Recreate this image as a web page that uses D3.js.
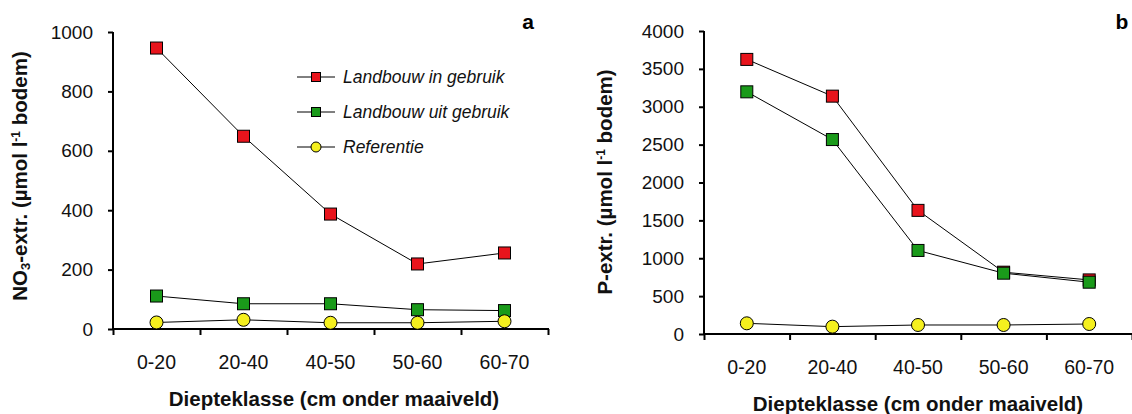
<!DOCTYPE html>
<html lang="nl">
<head>
<meta charset="UTF-8" />
<title>NO3 en P extractie per diepteklasse</title>
<style>
  body { margin: 0; background: #fff; }
  svg, .axis { font-family: "Liberation Sans", Arial, sans-serif; }
  .axis path, .axis line { stroke: #000; stroke-width: 2px; }
  .axis text { font-size: 19px; fill: #111; }
  .cat { font-size: 19.5px; fill: #111; }
  .series-line { fill: none; stroke: #000; stroke-width: 1px; }
  .title { font-size: 20.5px; font-weight: bold; fill: #111; }
  .legend text { font-size: 17.5px; font-style: italic; fill: #111; }
</style>
<script src="https://cdnjs.cloudflare.com/ajax/libs/d3/7.8.5/d3.min.js"></script>
</head>
<body>
<div id="chart"></div>
<script>
  const categories = ["0-20", "20-40", "40-50", "50-60", "60-70"];

  // paneel a: NO3-extr.
  const no3InGebruik  = [946, 649, 387, 219, 256];
  const no3UitGebruik = [111, 85, 85, 65, 62];
  const no3Referentie = [22, 31, 21, 21, 26];
  const no3Ticks = [0, 200, 400, 600, 800, 1000];

  // paneel b: P-extr.
  const pInGebruik  = [3625, 3140, 1632, 816, 714];
  const pUitGebruik = [3197, 2567, 1103, 803, 684];
  const pReferentie = [141, 97, 119, 119, 132];
  const pTicks = [0, 500, 1000, 1500, 2000, 2500, 3000, 3500, 4000];

  const seriesNames = ["Landbouw in gebruik", "Landbouw uit gebruik", "Referentie"];
  const seriesStyle = [
    { fill: "#e8141c", shape: "square" },
    { fill: "#1a9a1a", shape: "square" },
    { fill: "#f5f01e", shape: "circle" }
  ];

  const svg = d3.select("#chart").append("svg")
    .attr("width", 1132)
    .attr("height", 414);

  function drawPanel(cfg) {
    const g = svg.append("g");
    const x = d3.scaleBand().domain(categories).range([cfg.x0, cfg.x1]);
    const xEdge = d3.scaleLinear().domain([0, categories.length]).range([cfg.x0, cfg.x1]);
    const y = d3.scaleLinear().domain([0, cfg.max]).range([cfg.y0, cfg.y1]);

    // y axis
    g.append("g")
      .attr("class", "axis")
      .attr("transform", `translate(${cfg.x0},0)`)
      .call(d3.axisLeft(y).tickValues(cfg.ticks).tickFormat(d3.format("d"))
        .tickSize(5).tickSizeOuter(0).tickPadding(15))
      .call(a => a.select(".domain").attr("d", `M0,${cfg.y0 + 1}V${cfg.y1}`));

    // x axis, ticks at the class boundaries
    g.append("g")
      .attr("class", "axis")
      .attr("transform", `translate(0,${cfg.y0})`)
      .call(d3.axisBottom(xEdge).tickValues(d3.range(categories.length + 1))
        .tickSize(6).tickSizeOuter(0).tickFormat(""))
      .call(a => a.select(".domain").attr("d", `M${cfg.x0},0H${cfg.xEnd}`));

    g.selectAll(".cat")
      .data(categories)
      .enter().append("text")
      .attr("class", "cat")
      .attr("x", d => x(d) + x.bandwidth() / 2)
      .attr("y", cfg.y0 + 40)
      .attr("text-anchor", "middle")
      .text(d => d);

    // lines + markers
    cfg.series.forEach((vals, si) => {
      const pts = vals.map((v, i) => [x(categories[i]) + x.bandwidth() / 2, y(v)]);
      g.append("path")
        .attr("class", "series-line")
        .attr("d", d3.line()(pts));
      const st = seriesStyle[si];
      pts.forEach(p => {
        if (st.shape === "square") {
          g.append("rect")
            .attr("x", p[0] - 6).attr("y", p[1] - 6)
            .attr("width", 12).attr("height", 12)
            .attr("fill", st.fill).attr("stroke", "#000").attr("stroke-width", 1);
        } else {
          g.append("circle")
            .attr("cx", p[0]).attr("cy", p[1]).attr("r", 6.5)
            .attr("fill", st.fill).attr("stroke", "#000").attr("stroke-width", 1);
        }
      });
    });

    // x title
    g.append("text")
      .attr("class", "title")
      .attr("x", cfg.xTitleX)
      .attr("y", cfg.xTitleY)
      .attr("text-anchor", "middle")
      .text("Diepteklasse (cm onder maaiveld)");

    // y title
    const yt = g.append("text")
      .attr("class", "title")
      .attr("transform", `translate(${cfg.yTitleX},${cfg.yTitleY}) rotate(-90)`)
      .attr("text-anchor", "middle");
    cfg.yTitle(yt);

    // panel letter
    g.append("text")
      .attr("x", cfg.letterX).attr("y", 29)
      .attr("text-anchor", "middle")
      .style("font-size", "21px").style("font-weight", "bold")
      .text(cfg.letter);
  }

  drawPanel({
    x0: 113, x1: 548, xEnd: 549, y0: 329, y1: 32, max: 1000, ticks: no3Ticks,
    series: [no3InGebruik, no3UitGebruik, no3Referentie],
    xTitleX: 334, xTitleY: 406, yTitleX: 27, yTitleY: 176, letterX: 528, letter: "a",
    yTitle: t => {
      t.append("tspan").text("NO");
      t.append("tspan").attr("baseline-shift", "-25%").style("font-size", "13px").text("3");
      t.append("tspan").text("-extr. (µmol l");
      t.append("tspan").attr("baseline-shift", "super").style("font-size", "12px").text("-1");
      t.append("tspan").text(" bodem)");
    }
  });

  drawPanel({
    x0: 704, x1: 1132, xEnd: 1132, y0: 334, y1: 31, max: 4000, ticks: pTicks,
    series: [pInGebruik, pUitGebruik, pReferentie],
    xTitleX: 918, xTitleY: 411, yTitleX: 612, yTitleY: 182, letterX: 1122, letter: "b",
    yTitle: t => {
      t.append("tspan").text("P-extr. (µmol l");
      t.append("tspan").attr("baseline-shift", "super").style("font-size", "12px").text("-1");
      t.append("tspan").text(" bodem)");
    }
  });

  // legend (panel a)
  const legend = svg.append("g").attr("class", "legend");
  seriesNames.forEach((name, i) => {
    const ly = 77 + i * 35;
    legend.append("line")
      .attr("x1", 297).attr("x2", 335).attr("y1", ly).attr("y2", ly)
      .attr("stroke", "#000").attr("stroke-width", 1);
    const st = seriesStyle[i];
    if (st.shape === "square") {
      legend.append("rect")
        .attr("x", 311.5).attr("y", ly - 4.5).attr("width", 9).attr("height", 9)
        .attr("fill", st.fill).attr("stroke", "#000");
    } else {
      legend.append("circle")
        .attr("cx", 316).attr("cy", ly).attr("r", 5)
        .attr("fill", st.fill).attr("stroke", "#000");
    }
    legend.append("text")
      .attr("x", 343).attr("y", ly + 6)
      .text(name);
  });
</script>
</body>
</html>
